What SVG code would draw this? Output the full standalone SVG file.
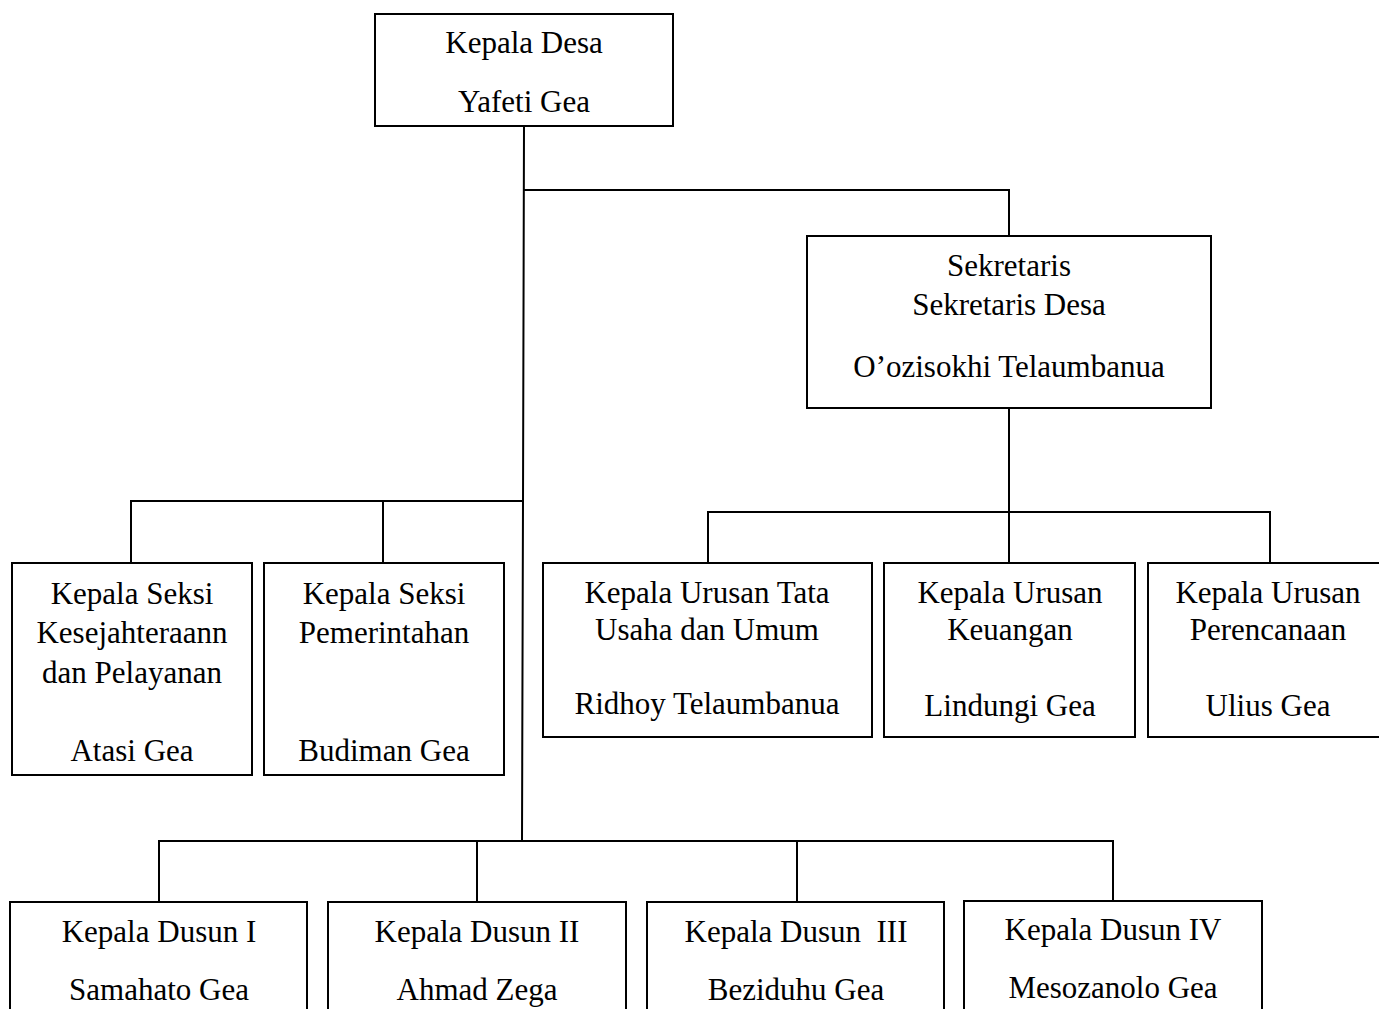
<svg xmlns="http://www.w3.org/2000/svg" width="1379" height="1009" viewBox="0 0 1379 1009">
<style>
.box{fill:#fff;stroke:#000;stroke-width:2}
.ln{fill:none;stroke:#000;stroke-width:2}
text{font-family:"Liberation Serif","Times New Roman",serif;font-size:31px;fill:#000;text-anchor:middle}
</style>
<rect width="1379" height="1009" fill="#fff"/>
<g id="connectors">
<path class="ln" d="M524 126 L523 501 L522 841"/>
<path class="ln" d="M523 190 H1009 V236"/>
<path class="ln" d="M1009 408 V512"/>
<path class="ln" d="M708 563 V512 H1270 V563"/>
<path class="ln" d="M1009 512 V563"/>
<path class="ln" d="M131 563 V501 H523"/>
<path class="ln" d="M383 501 V563"/>
<path class="ln" d="M159 902 V841 H1113 V901"/>
<path class="ln" d="M477 841 V902"/>
<path class="ln" d="M797 841 V902"/>
</g>
<g id="kepala-desa">
<rect class="box" x="375" y="14" width="298" height="112"/>
<text x="524" y="53">Kepala Desa</text>
<text x="524" y="112">Yafeti Gea</text>
</g>
<g id="sekretaris">
<rect class="box" x="807" y="236" width="404" height="172"/>
<text x="1009" y="276">Sekretaris</text>
<text x="1009" y="315">Sekretaris Desa</text>
<text x="1009" y="377">O’ozisokhi Telaumbanua</text>
</g>
<g id="kasi-kesejahteraan">
<rect class="box" x="12" y="563" width="240" height="212"/>
<text x="132" y="604">Kepala Seksi</text>
<text x="132" y="643">Kesejahteraann</text>
<text x="132" y="683">dan Pelayanan</text>
<text x="132" y="761">Atasi Gea</text>
</g>
<g id="kasi-pemerintahan">
<rect class="box" x="264" y="563" width="240" height="212"/>
<text x="384" y="604">Kepala Seksi</text>
<text x="384" y="643">Pemerintahan</text>
<text x="384" y="761">Budiman Gea</text>
</g>
<g id="kaur-tu">
<rect class="box" x="543" y="563" width="329" height="174"/>
<text x="707" y="603">Kepala Urusan Tata</text>
<text x="707" y="640">Usaha dan Umum</text>
<text x="707" y="714">Ridhoy Telaumbanua</text>
</g>
<g id="kaur-keuangan">
<rect class="box" x="884" y="563" width="251" height="174"/>
<text x="1010" y="603">Kepala Urusan</text>
<text x="1010" y="640">Keuangan</text>
<text x="1010" y="716">Lindungi Gea</text>
</g>
<g id="kaur-perencanaan">
<rect class="box" x="1148" y="563" width="240" height="174"/>
<text x="1268" y="603">Kepala Urusan</text>
<text x="1268" y="640">Perencanaan</text>
<text x="1268" y="716">Ulius Gea</text>
</g>
<g id="kadus-1">
<rect class="box" x="10" y="902" width="297" height="120"/>
<text x="159" y="942">Kepala Dusun I</text>
<text x="159" y="1000">Samahato Gea</text>
</g>
<g id="kadus-2">
<rect class="box" x="328" y="902" width="298" height="120"/>
<text x="477" y="942">Kepala Dusun II</text>
<text x="477" y="1000">Ahmad Zega</text>
</g>
<g id="kadus-3">
<rect class="box" x="647" y="902" width="297" height="120"/>
<text x="796" y="942" xml:space="preserve">Kepala Dusun  III</text>
<text x="796" y="1000">Beziduhu Gea</text>
</g>
<g id="kadus-4">
<rect class="box" x="964" y="901" width="298" height="120"/>
<text x="1113" y="940">Kepala Dusun IV</text>
<text x="1113" y="998">Mesozanolo Gea</text>
</g>
</svg>
